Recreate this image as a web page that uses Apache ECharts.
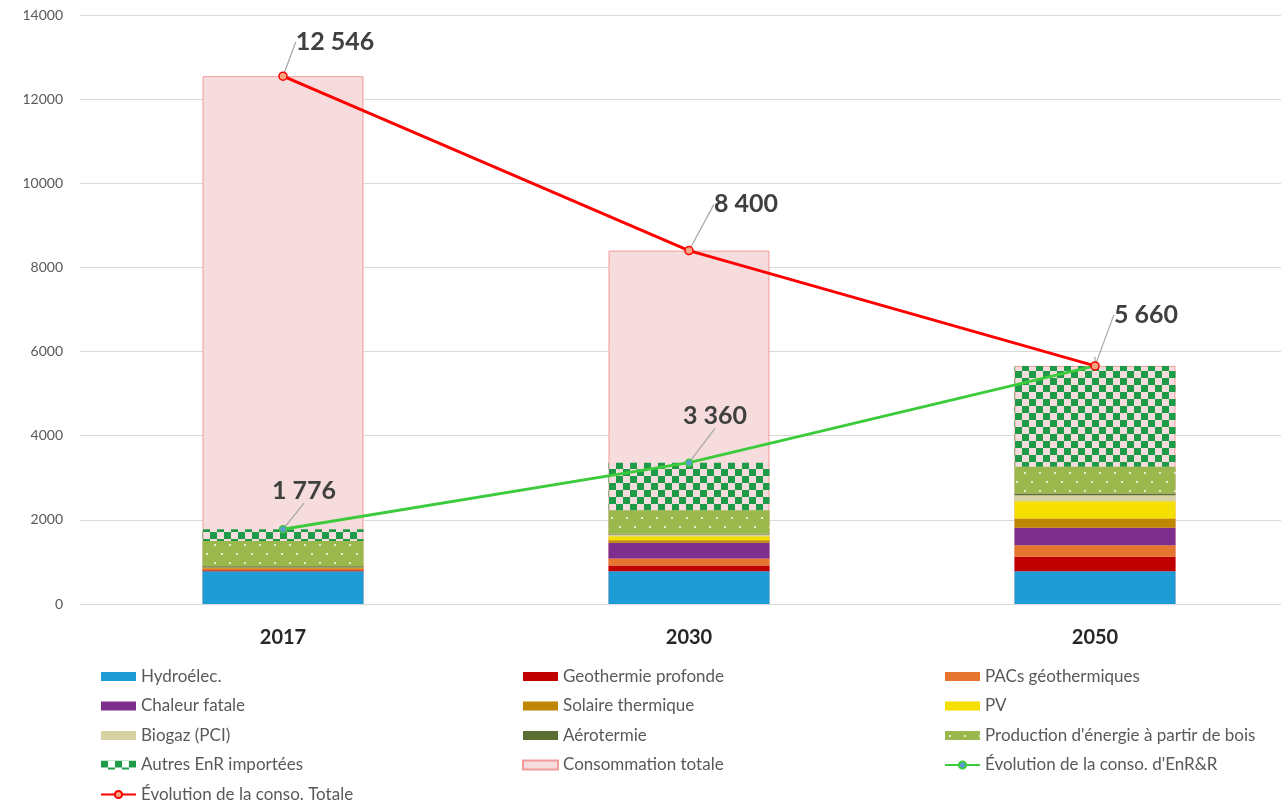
<!DOCTYPE html>
<html>
<head>
<meta charset="utf-8">
<script src="https://cdn.jsdelivr.net/npm/echarts@6/dist/echarts.min.js"></script>
<style>
  html, body { margin: 0; padding: 0; background: #fff; overflow: hidden; }
  /* plot area runs past the right edge of the window */
  #chart { width: 1298px; height: 805px; }
</style>
</head>
<body>
<div id="chart"></div>
<script>
// Years on the category axis
const years = ['2017', '2030', '2050'];

// Renewable production by source (GWh), stacked
const hydro        = [780, 780, 780];
const geoProfonde  = [20, 135, 341];
const pacGeo       = [40, 166, 277];
const chaleurFat   = [0, 372, 412];
const solaireTherm = [20, 63, 222];
const pv           = [0, 95, 412];
const biogaz       = [10, 40, 143];
const aerotermie   = [30, 20, 40];
const bois         = [600, 555, 634];
const autresImport = [276, 1134, 2399];

// Totals
const consoTotale = [12546, 8400, 5660];
const consoEnR    = [1776, 3360, 5660];

// Y axis ticks
const yMin = 0, yMax = 14000, yStep = 2000;

const FONT = 'Lato, "Liberation Sans", sans-serif';

// Checkerboard fill for imported renewables (transparent squares let the total bar show)
function checkerPattern() {
  const c = document.createElement('canvas');
  c.width = 14; c.height = 14;
  const g = c.getContext('2d');
  g.fillStyle = '#1E9B48';
  g.fillRect(0, 0, 7, 7);
  g.fillRect(7, 7, 7, 7);
  return c;
}
// Olive fill with small light dots for wood energy
function dotPattern() {
  const c = document.createElement('canvas');
  c.width = 30; c.height = 18;
  const g = c.getContext('2d');
  g.fillStyle = '#9BB84C';
  g.fillRect(0, 0, 30, 18);
  g.fillStyle = '#E4ECCB';
  [[4, 4], [19, 4], [11, 13], [26, 13]].forEach(function (p) {
    g.fillRect(p[0], p[1], 2, 2);
  });
  return c;
}

function fmt(v) {
  return String(v).replace(/\B(?=(\d{3})+(?!\d))/g, ' ');
}

const BAR_W = 161;

function stackSeries(name, data, color) {
  return {
    name: name,
    type: 'bar',
    stack: 'enr',
    barWidth: BAR_W,
    barGap: '-100%',
    data: data,
    itemStyle: { color: color },
    emphasis: { disabled: true },
    z: 3
  };
}

const chart = echarts.init(document.getElementById('chart'), null, { renderer: 'canvas' });

const legendText = { color: '#595959', fontSize: 17, fontFamily: FONT };
const legendCommon = {
  orient: 'vertical',
  top: 668,
  padding: 0,
  itemWidth: 35,
  itemHeight: 9,
  itemGap: 12.5,
  textStyle: legendText,
  selectedMode: false
};
function legendItem(name) { return { name: name, icon: 'rect' }; }

// Label offsets for the total / renewable lines
const redLabelShift = [[52, -12], [57, -24], [51, -29]];
const greenLabelShift = [[21, -17], [26, -25]];

const option = {
  backgroundColor: '#fff',
  animation: false,
  grid: { left: 80, right: 0, top: 15, bottom: 201, containLabel: false },
  legend: [
    Object.assign({ left: 100, data: [legendItem('Hydroélec.'), legendItem('Chaleur fatale'), legendItem('Biogaz (PCI)'), legendItem('Autres EnR importées'), 'Évolution de la conso. Totale'] }, legendCommon),
    Object.assign({ left: 522, data: [legendItem('Geothermie profonde'), legendItem('Solaire thermique'), legendItem('Aérotermie'), legendItem('Consommation totale')] }, legendCommon),
    Object.assign({ left: 944, data: [legendItem('PACs géothermiques'), legendItem('PV'), legendItem("Production d'énergie à partir de bois"), "Évolution de la conso. d'EnR&R"] }, legendCommon)
  ],
  xAxis: {
    type: 'category',
    data: years,
    axisLine: { lineStyle: { color: '#D9D9D9', width: 1 } },
    axisTick: { show: false },
    axisLabel: { color: '#262626', fontSize: 20, fontWeight: 'bold', fontFamily: FONT, margin: 24 }
  },
  yAxis: {
    type: 'value',
    min: yMin, max: yMax, interval: yStep,
    axisLine: { show: false },
    axisTick: { show: false },
    splitLine: { lineStyle: { color: '#D9D9D9', width: 1 } },
    axisLabel: { color: '#595959', fontSize: 14, fontFamily: FONT, margin: 17, formatter: function (v) { return String(v); } }
  },
  series: [
    {
      name: 'Consommation totale',
      type: 'bar',
      barWidth: BAR_W,
      barGap: '-100%',
      data: consoTotale,
      itemStyle: { color: '#F6DCDC', borderColor: '#F39B9B', borderWidth: 1 },
      emphasis: { disabled: true },
      z: 2
    },
    stackSeries('Hydroélec.', hydro, '#1E9CD6'),
    stackSeries('Geothermie profonde', geoProfonde, '#C00000'),
    stackSeries('PACs géothermiques', pacGeo, '#E67530'),
    stackSeries('Chaleur fatale', chaleurFat, '#7E2F8E'),
    stackSeries('Solaire thermique', solaireTherm, '#BF8600'),
    stackSeries('PV', pv, '#F4DF00'),
    stackSeries('Biogaz (PCI)', biogaz, '#D6D2A2'),
    stackSeries('Aérotermie', aerotermie, '#5A6E34'),
    stackSeries("Production d'énergie à partir de bois", bois, { image: dotPattern(), repeat: 'repeat' }),
    stackSeries('Autres EnR importées', autresImport, { image: checkerPattern(), repeat: 'repeat' }),
    {
      name: "Évolution de la conso. d'EnR&R",
      type: 'line',
      data: consoEnR,
      z: 5,
      symbol: 'circle',
      symbolSize: 7,
      lineStyle: { color: '#3CCB3C', width: 3 },
      itemStyle: { color: '#5B9BD5', borderColor: '#3CCB3C', borderWidth: 1.5 },
      emphasis: { disabled: true },
      label: {
        show: true,
        position: 'top',
        distance: 5,
        formatter: function (p) { return p.dataIndex < 2 ? fmt(p.value) : ''; },
        color: '#404040', fontSize: 25, fontWeight: 'bold', fontFamily: FONT
      },
      labelLine: { show: true, lineStyle: { color: '#A6A6A6', width: 1.2 } },
      labelLayout: function (p) {
        const s = greenLabelShift[p.dataIndex];
        return s ? { dx: s[0], dy: s[1] } : {};
      }
    },
    {
      name: 'Évolution de la conso. Totale',
      type: 'line',
      data: consoTotale,
      z: 6,
      symbol: 'circle',
      symbolSize: 8,
      lineStyle: { color: '#FF0000', width: 3 },
      itemStyle: { color: '#F4A582', borderColor: '#FF0000', borderWidth: 1.5 },
      emphasis: { disabled: true },
      label: {
        show: true,
        position: 'top',
        distance: 5,
        formatter: function (p) { return fmt(p.value); },
        color: '#404040', fontSize: 25, fontWeight: 'bold', fontFamily: FONT
      },
      labelLine: { show: true, lineStyle: { color: '#A6A6A6', width: 1.2 } },
      labelLayout: function (p) {
        const s = redLabelShift[p.dataIndex];
        return { dx: s[0], dy: s[1] };
      }
    }
  ]
};

chart.setOption(option);
</script>
</body>
</html>
